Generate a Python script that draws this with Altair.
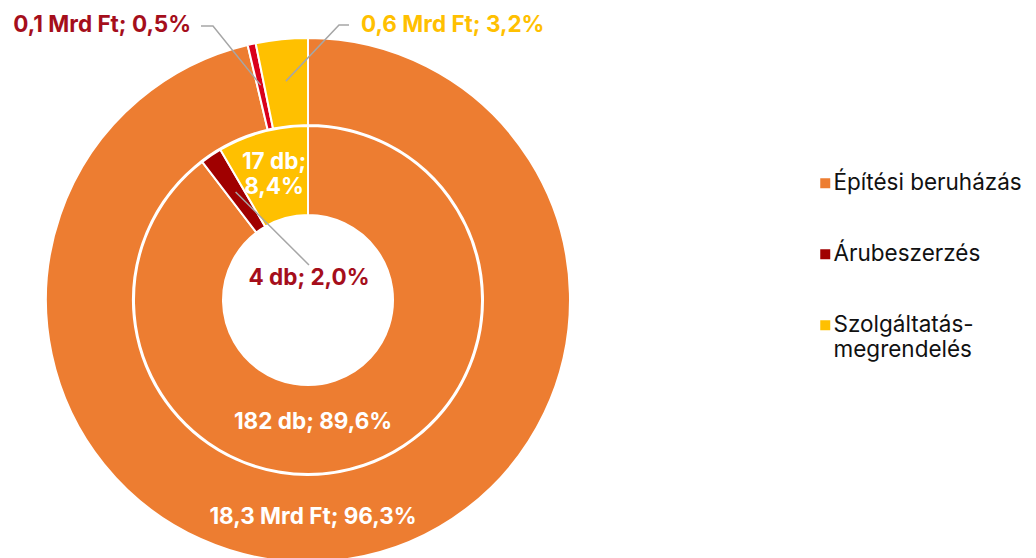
import math
import altair as alt
import pandas as pd

# ---- data ----
categories = ["Építési beruházás", "Árubeszerzés", "Szolgáltatás-megrendelés"]
value_mrd_ft = [18.3, 0.1, 0.6]      # outer ring, Mrd Ft
value_share = [96.3, 0.5, 3.2]       # outer ring, %
count_db = [182, 4, 17]              # inner ring, db
count_share = [89.6, 2.0, 8.4]       # inner ring, %

# ---- styles / layout ----
COLORS = ["#ED7D31", "#A00000", "#FFC000"]
OUTER_COLORS = ["#ED7D31", "#D9001B", "#FFC000"]
LABEL_RED = "#A50E1B"
YELLOW_TXT = "#FFC000"
LEADER = "#A6A6A6"
FONT = "Inter"
FS = 22.5
CX, CY = 300, 292
R_OUT, R_OUT2 = 262, 175
R_IN, R_IN2 = 174, 85


def hu(v):
    return f"{v:.1f}".replace(".", ",")


def polar(pct, r):
    a = math.radians(pct * 3.6)
    return CX + r * math.sin(a), CY - r * math.cos(a)


def mid(shares, i):
    return sum(shares[:i]) + shares[i] / 2


outer = pd.DataFrame({"category": categories, "share": value_share, "order": [0, 1, 2]})
inner = pd.DataFrame({"category": categories, "share": count_share, "order": [0, 1, 2]})

outer_arc = alt.Chart(outer).mark_arc(
    radius=R_OUT, radius2=R_OUT2, stroke="white", strokeWidth=2
).encode(
    theta=alt.Theta("share:Q", stack=True),
    order=alt.Order("order:Q"),
    color=alt.Color("category:N", scale=alt.Scale(domain=categories, range=OUTER_COLORS), legend=None),
    x=alt.value(CX), y=alt.value(CY),
)

inner_arc = alt.Chart(inner).mark_arc(
    radius=R_IN, radius2=R_IN2, stroke="white", strokeWidth=2
).encode(
    theta=alt.Theta("share:Q", stack=True),
    order=alt.Order("order:Q"),
    color=alt.Color(
        "category:N",
        scale=alt.Scale(domain=categories, range=COLORS),
        legend=alt.Legend(
            title=None, orient="none", legendX=806, legendY=164, padding=0,
            symbolType="square", symbolSize=100, symbolStrokeWidth=0,
            labelFont=FONT, labelFontSize=22.5, labelColor="#111111",
            labelOffset={"expr": "-3"},
            labelLimit=400, rowPadding=48,
            labelExpr="datum.label == 'Szolgáltatás-megrendelés' ? ['Szolgáltatás-', 'megrendelés'] : datum.label",
        ),
    ),
    x=alt.value(CX), y=alt.value(CY),
)

# leader lines: start at slice middle (from data), bend/end near labels
p_or = polar(mid(value_share, 1), 220)
p_oy = polar(mid(value_share, 2), 220)
p_ir = polar(mid(count_share, 1), 130)
leaders = pd.DataFrame([
    {"id": "or", "seq": 0, "x": p_or[0], "y": p_or[1]},
    {"id": "or", "seq": 1, "x": 205, "y": 18},
    {"id": "or", "seq": 2, "x": 193, "y": 18},
    {"id": "oy", "seq": 0, "x": p_oy[0], "y": p_oy[1]},
    {"id": "oy", "seq": 1, "x": 331, "y": 17},
    {"id": "oy", "seq": 2, "x": 341, "y": 17},
    {"id": "ir", "seq": 0, "x": p_ir[0], "y": p_ir[1]},
    {"id": "ir", "seq": 1, "x": 301, "y": 257},
])
leader_lines = alt.Chart(leaders).mark_line(color=LEADER, strokeWidth=1.5).encode(
    x=alt.X("x:Q", scale=None, axis=None),
    y=alt.Y("y:Q", scale=None, axis=None),
    detail="id:N",
    order="seq:Q",
)

labels_c = pd.DataFrame([
    {"t": f"{count_db[2]} db;\n{hu(count_share[2])}%", "x": 266, "y": 154, "c": "white"},
    {"t": f"{count_db[1]} db; {hu(count_share[1])}%", "x": 301, "y": 270, "c": LABEL_RED},
    {"t": f"{count_db[0]} db; {hu(count_share[0])}%", "x": 305, "y": 414, "c": "white"},
    {"t": f"{hu(value_mrd_ft[0])} Mrd Ft; {hu(value_share[0])}%", "x": 305, "y": 509, "c": "white"},
])
labels_r = pd.DataFrame([
    {"t": f"{hu(value_mrd_ft[1])} Mrd Ft; {hu(value_share[1])}%", "x": 183, "y": 17, "c": LABEL_RED},
])
labels_l = pd.DataFrame([
    {"t": f"{hu(value_mrd_ft[2])} Mrd Ft; {hu(value_share[2])}%", "x": 353, "y": 17, "c": YELLOW_TXT},
])


def text_layer(df, align):
    return alt.Chart(df).mark_text(
        font=FONT, fontSize=FS, fontWeight="bold", align=align, baseline="middle",
        lineBreak="\n", lineHeight=25,
    ).encode(
        x=alt.X("x:Q", scale=None, axis=None),
        y=alt.Y("y:Q", scale=None, axis=None),
        text="t:N",
        color=alt.Color("c:N", scale=None),
    )


chart = alt.layer(
    outer_arc, inner_arc, leader_lines,
    text_layer(labels_c, "center"), text_layer(labels_r, "right"), text_layer(labels_l, "left"),
).resolve_scale(
    color="independent", theta="independent"
).properties(
    width=1020, height=550, autosize="none", padding=0, background="white"
).configure_view(stroke=None)

chart.save("out.html", embed_options={"renderer": "svg", "actions": False})
